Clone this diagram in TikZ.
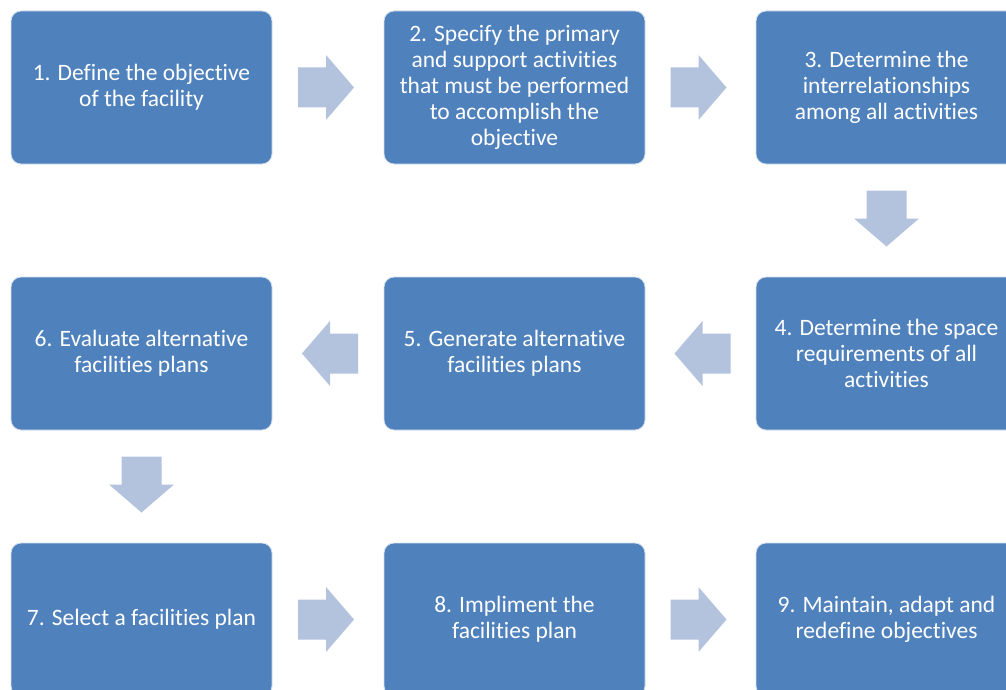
\documentclass[tikz,border=0pt]{standalone}
\usepackage{fontspec}
\setmainfont{Carlito}[Ligatures={NoCommon}]
\usetikzlibrary{calc}
\definecolor{boxblue}{HTML}{4F81BD}
\definecolor{arrowcol}{HTML}{B3C2DD}
\tikzset{
  stepbox/.style={rectangle, rounded corners=10pt, fill=boxblue, draw=white!75!boxblue,
    line width=0.8pt, minimum width=261pt, minimum height=153pt, inner sep=0pt,
    text=white, align=center, font=\fontsize{23.5}{26}\selectfont,
    execute at begin node={\vspace*{4pt}}},
  harrow/.pic={\fill[arrowcol] (-30,-20) -- (-2,-20) -- (-2,-32.5) -- (26,0) -- (-2,32.5) -- (-2,20) -- (-30,20) -- cycle;},
  varrow/.pic={\fill[arrowcol] (-20,-30) -- (-20,-2) -- (-32.5,-2) -- (0,26) -- (32.5,-2) -- (20,-2) -- (20,-30) -- cycle;},
}
\begin{document}
\begin{tikzpicture}[x=1pt,y=-1pt]
\useasboundingbox (0,0) rectangle (1006,690);
\clip (0,0) rectangle (1006,690);
\node[stepbox] (b1) at (141.5,87.5) {1. Define the objective\\of the facility};
\node[stepbox] (b2) at (514.5,87.5) {2. Specify the primary\\and support activities\\that must be performed\\to accomplish the\\objective};
\node[stepbox] (b3) at (886.5,87.5) {3. Determine the\\interrelationships\\among all activities};
\node[stepbox] (b4) at (886.5,353.5) {4. Determine the space\\requirements of all\\activities};
\node[stepbox] (b5) at (514.5,353.5) {5. Generate alternative\\facilities plans};
\node[stepbox] (b6) at (141.5,353.5) {6. Evaluate alternative\\facilities plans};
\node[stepbox] (b7) at (141.5,619.5) {7. Select a facilities plan};
\node[stepbox] (b8) at (514.5,619.5) {8. Impliment the\\facilities plan};
\node[stepbox] (b9) at (886.5,619.5) {9. Maintain, adapt and\\redefine objectives};
\pic at ($(b1.east)!0.5!(b2.west)$) {harrow};
\pic at ($(b2.east)!0.5!(b3.west)$) {harrow};
\pic at ($(b3.south)!0.5!(b4.north)$) {varrow};
\pic[xscale=-1] at ($(b4.west)!0.5!(b5.east)$) {harrow};
\pic[xscale=-1] at ($(b5.west)!0.5!(b6.east)$) {harrow};
\pic at ($(b6.south)!0.5!(b7.north)$) {varrow};
\pic at ($(b7.east)!0.5!(b8.west)$) {harrow};
\pic at ($(b8.east)!0.5!(b9.west)$) {harrow};
\end{tikzpicture}
\end{document}
